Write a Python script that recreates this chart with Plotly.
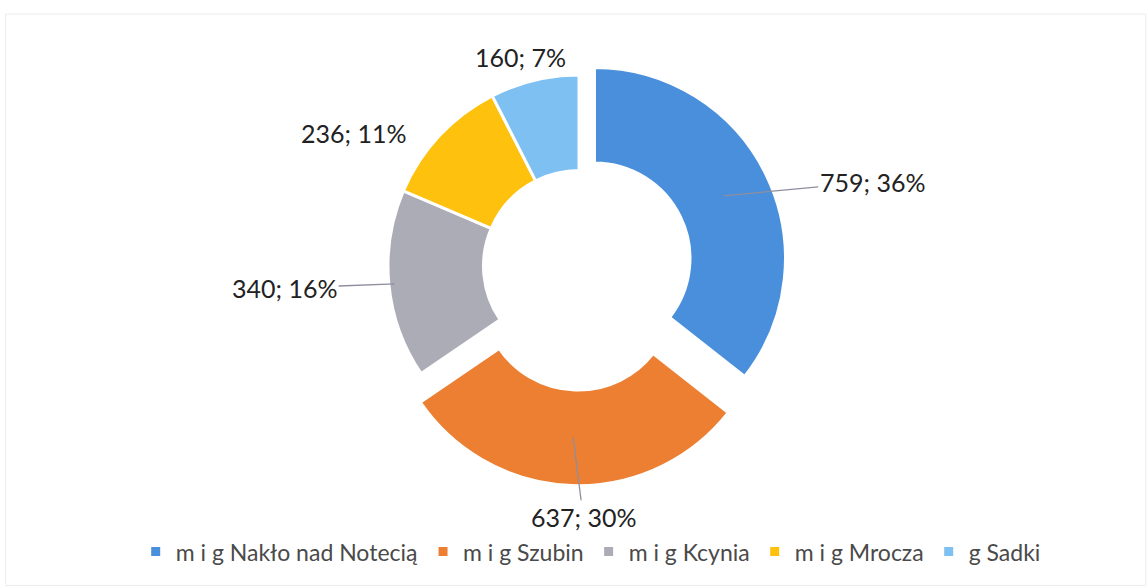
import math
import plotly.graph_objects as go

labels = ["m i g Nakło nad Notecią", "m i g Szubin", "m i g Kcynia", "m i g Mrocza", "g Sadki"]
values = [759, 637, 340, 236, 160]
pct_labels = ["36%", "30%", "16%", "11%", "7%"]

# styles / layout
colors = ["#4A8FDB", "#EC7F32", "#ACACB6", "#FDC10E", "#7EC0F2"]
pulls = [0.09, 0.15, 0, 0, 0]
label_offsets = [(149, -14), (10, 79), (-110, 4), (-121, -35), (-25, -70)]  # px from leader anchor
anchor_radius = [0.75, 0.75, 0.97, 0.75, 0.75]  # fraction of outer radius
show_leader = [True, True, True, False, False]

W, H = 1147, 586
dom_x = [0.3133, 0.6963]
dom_y = [0.1712, 0.921]

fig = go.Figure(go.Pie(
    labels=labels,
    values=values,
    textinfo="none",
    marker=dict(colors=colors, line=dict(color="white", width=3)),
    hole=0.5,
    sort=False,
    direction="clockwise",
    rotation=0,
    pull=pulls,
    domain=dict(x=dom_x, y=dom_y),
    hoverinfo="label+value+percent",
))

# leader anchors derived from the data (mid-angle of each slice)
cx = (dom_x[0] + dom_x[1]) / 2 * W
cy = (1 - (dom_y[0] + dom_y[1]) / 2) * H
r = min((dom_x[1] - dom_x[0]) * W, (dom_y[1] - dom_y[0]) * H) / (2 * (1 + max(pulls)))
total = sum(values)
cum = 0.0
annotations = []
for v, p, pl, off, ar, lead in zip(values, pct_labels, pulls, label_offsets, anchor_radius, show_leader):
    frac = v / total
    mid = (cum + frac / 2) * 2 * math.pi
    cum += frac
    rr = ar * r + pl * r
    px = cx + rr * math.sin(mid)
    py = cy - rr * math.cos(mid)
    annotations.append(dict(
        x=px / W, y=1 - py / H, xref="paper", yref="paper",
        text=f"{v}; {p}",
        showarrow=True, ax=off[0], ay=off[1],
        arrowhead=0, arrowwidth=1.3,
        arrowcolor="#8e8e9e" if lead else "rgba(0,0,0,0)",
        font=dict(family="Lato", size=25, color="#222222"),
    ))

fig.update_layout(
    width=W, height=H,
    margin=dict(l=0, r=0, t=0, b=0),
    paper_bgcolor="white",
    plot_bgcolor="white",
    showlegend=True,
    legend=dict(
        orientation="h",
        x=0.515, xanchor="center",
        y=0.022, yanchor="bottom",
        font=dict(family="Lato", size=23, color="#4a4a4a"),
        itemwidth=30,
        traceorder="normal",
    ),
    annotations=annotations,
    shapes=[dict(type="rect", xref="paper", yref="paper", x0=0.005, x1=0.999, y0=0.001, y1=0.976,
                 line=dict(color="#ececec", width=1))],
)

fig.write_html("out.html", config={"displayModeBar": False},
               post_script="document.body.style.margin='0';")
